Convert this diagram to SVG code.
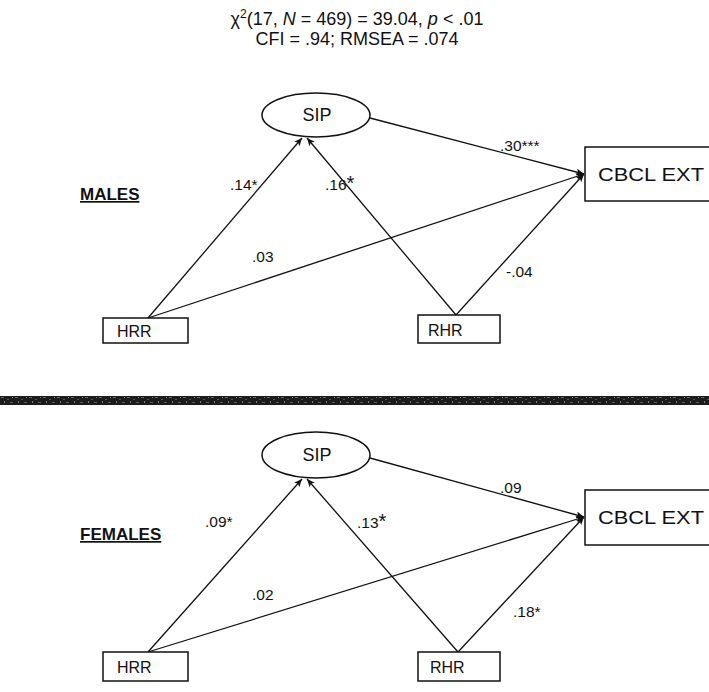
<svg xmlns="http://www.w3.org/2000/svg" width="709" height="692" viewBox="0 0 709 692">
<defs>
<marker id="ah" markerUnits="userSpaceOnUse" markerWidth="9" markerHeight="7" refX="8" refY="3.5" orient="auto">
<path d="M0,0 L8,3.5 L0,7 L2,3.5 z" fill="#111"/>
</marker>
<pattern id="noise" width="14" height="9" patternUnits="userSpaceOnUse">
<rect width="14" height="9" fill="#1c1c1c"/>
<rect x="1" y="1" width="3" height="1" fill="#666"/>
<rect x="7" y="3" width="2" height="1" fill="#555"/>
<rect x="4" y="5" width="1" height="2" fill="#777"/>
<rect x="10" y="6" width="3" height="1" fill="#5a5a5a"/>
<rect x="12" y="1" width="1" height="1" fill="#888"/>
</pattern>
</defs>
<style>
text{font-family:"Liberation Sans",Arial,sans-serif;fill:#111}
.t{font-size:18px}
.n{font-size:18px}
.s{font-size:16px}
.l{font-size:15.5px}
.h{font-size:17px;font-weight:bold;text-decoration:underline}
.box{fill:#fff;stroke:#111;stroke-width:1.5}
.c line{stroke:#111;stroke-width:1.3;marker-end:url(#ah)}
</style>
<rect width="709" height="692" fill="#fff"/>
<g id="fit">
<text class="t" x="357" y="25" text-anchor="middle">χ<tspan dy="-7" font-size="12">2</tspan><tspan dy="7">(17, </tspan><tspan font-style="italic">N</tspan> = 469) = 39.04, <tspan font-style="italic">p</tspan> &lt; .01</text>
<text class="t" x="357" y="45" text-anchor="middle">CFI = .94; RMSEA = .074</text>
</g>
<g id="males-label"><text class="h" x="80" y="200">MALES</text></g>
<g id="m-conn" class="c">
<line x1="370" y1="118" x2="584" y2="174"/>
<line x1="148" y1="318" x2="302" y2="138"/>
<line x1="456" y1="315" x2="307" y2="138"/>
<line x1="148" y1="318" x2="584" y2="174"/>
<line x1="456" y1="315" x2="584" y2="174"/>
</g>
<g id="m-sip"><ellipse cx="316" cy="115" rx="54" ry="22" fill="#fff" stroke="#111" stroke-width="1.5"/><text class="n" x="317" y="121" text-anchor="middle">SIP</text></g>
<g id="m-cbcl"><rect class="box" x="585" y="147" width="130" height="54"/><text class="n" x="598" y="181" textLength="106" lengthAdjust="spacingAndGlyphs">CBCL EXT</text></g>
<g id="m-hrr"><rect class="box" x="103" y="318" width="85" height="25"/><text class="s" x="117" y="337">HRR</text></g>
<g id="m-rhr"><rect class="box" x="418" y="315" width="82" height="28"/><text class="s" x="428" y="336">RHR</text></g>
<g id="m-labels">
<text class="l" x="500" y="151">.30***</text>
<text class="l" x="230" y="190">.14*</text>
<text class="l" x="325" y="190">.16<tspan font-size="20">*</tspan></text>
<text class="l" x="252" y="262">.03</text>
<text class="l" x="506" y="277">-.04</text>
</g>
<rect id="divider" x="0" y="396" width="709" height="9" fill="url(#noise)"/>
<g id="females-label"><text class="h" x="80" y="540">FEMALES</text></g>
<g id="f-conn" class="c">
<line x1="370" y1="458" x2="584" y2="517"/>
<line x1="148" y1="652" x2="302" y2="479"/>
<line x1="458" y1="652" x2="307" y2="479"/>
<line x1="148" y1="652" x2="584" y2="517"/>
<line x1="458" y1="652" x2="584" y2="517"/>
</g>
<g id="f-sip"><ellipse cx="316" cy="455" rx="54" ry="23" fill="#fff" stroke="#111" stroke-width="1.5"/><text class="n" x="317" y="461" text-anchor="middle">SIP</text></g>
<g id="f-cbcl"><rect class="box" x="585" y="490" width="130" height="55"/><text class="n" x="598" y="524" textLength="106" lengthAdjust="spacingAndGlyphs">CBCL EXT</text></g>
<g id="f-hrr"><rect class="box" x="103" y="652" width="85" height="29"/><text class="s" x="117" y="673">HRR</text></g>
<g id="f-rhr"><rect class="box" x="418" y="652" width="82" height="29"/><text class="s" x="430" y="673">RHR</text></g>
<g id="f-labels">
<text class="l" x="500" y="493">.09</text>
<text class="l" x="205" y="527">.09*</text>
<text class="l" x="357" y="528">.13<tspan font-size="20">*</tspan></text>
<text class="l" x="252" y="600">.02</text>
<text class="l" x="513" y="617">.18*</text>
</g>
</svg>
